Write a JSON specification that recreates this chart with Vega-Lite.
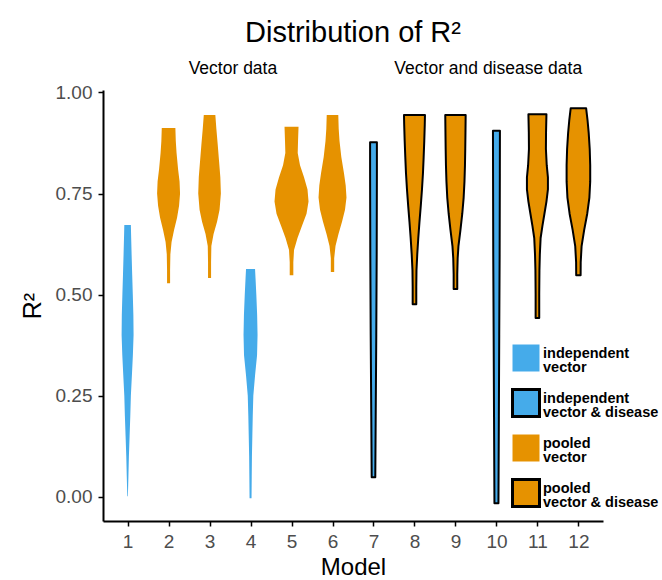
{
  "$schema": "https://vega.github.io/schema/vega-lite/v6.json",
  "width": 500,
  "height": 431,
  "autosize": {"type": "none"},
  "padding": {"left": 103, "top": 90, "right": 59, "bottom": 59},
  "background": "white",
  "title": {"text": "Distribution of R²", "font": "Liberation Sans", "fontSize": 29, "fontWeight": "normal", "color": "black", "anchor": "middle", "frame": "group", "baseline": "alphabetic", "offset": -11},
  "config": {"view": {"stroke": null}, "axis": {"grid": false}, "style": {"guide-label": {"lineHeight": 14}}},
  "layer": [
    {
      "data": {"values": [
        {"m":1,"g":"independent|vector","r2":0.001,"d":0.007},{"m":1,"g":"independent|vector","r2":0.05,"d":0.020},{"m":1,"g":"independent|vector","r2":0.10,"d":0.032},{"m":1,"g":"independent|vector","r2":0.15,"d":0.049},{"m":1,"g":"independent|vector","r2":0.20,"d":0.066},{"m":1,"g":"independent|vector","r2":0.25,"d":0.080},{"m":1,"g":"independent|vector","r2":0.30,"d":0.105},{"m":1,"g":"independent|vector","r2":0.35,"d":0.129},{"m":1,"g":"independent|vector","r2":0.40,"d":0.146},{"m":1,"g":"independent|vector","r2":0.45,"d":0.141},{"m":1,"g":"independent|vector","r2":0.50,"d":0.127},{"m":1,"g":"independent|vector","r2":0.55,"d":0.112},{"m":1,"g":"independent|vector","r2":0.60,"d":0.098},{"m":1,"g":"independent|vector","r2":0.65,"d":0.085},{"m":1,"g":"independent|vector","r2":0.672,"d":0.080},
        {"m":2,"g":"pooled|vector","r2":0.528,"d":0.037},{"m":2,"g":"pooled|vector","r2":0.56,"d":0.037},{"m":2,"g":"pooled|vector","r2":0.60,"d":0.044},{"m":2,"g":"pooled|vector","r2":0.63,"d":0.073},{"m":2,"g":"pooled|vector","r2":0.66,"d":0.134},{"m":2,"g":"pooled|vector","r2":0.69,"d":0.207},{"m":2,"g":"pooled|vector","r2":0.72,"d":0.256},{"m":2,"g":"pooled|vector","r2":0.75,"d":0.280},{"m":2,"g":"pooled|vector","r2":0.78,"d":0.268},{"m":2,"g":"pooled|vector","r2":0.81,"d":0.232},{"m":2,"g":"pooled|vector","r2":0.85,"d":0.195},{"m":2,"g":"pooled|vector","r2":0.88,"d":0.176},{"m":2,"g":"pooled|vector","r2":0.912,"d":0.166},
        {"m":3,"g":"pooled|vector","r2":0.541,"d":0.037},{"m":3,"g":"pooled|vector","r2":0.58,"d":0.037},{"m":3,"g":"pooled|vector","r2":0.62,"d":0.044},{"m":3,"g":"pooled|vector","r2":0.65,"d":0.098},{"m":3,"g":"pooled|vector","r2":0.68,"d":0.183},{"m":3,"g":"pooled|vector","r2":0.71,"d":0.244},{"m":3,"g":"pooled|vector","r2":0.75,"d":0.276},{"m":3,"g":"pooled|vector","r2":0.79,"d":0.263},{"m":3,"g":"pooled|vector","r2":0.83,"d":0.232},{"m":3,"g":"pooled|vector","r2":0.87,"d":0.200},{"m":3,"g":"pooled|vector","r2":0.91,"d":0.166},{"m":3,"g":"pooled|vector","r2":0.944,"d":0.141},
        {"m":4,"g":"independent|vector","r2":-0.004,"d":0.024},{"m":4,"g":"independent|vector","r2":0.05,"d":0.029},{"m":4,"g":"independent|vector","r2":0.10,"d":0.034},{"m":4,"g":"independent|vector","r2":0.15,"d":0.044},{"m":4,"g":"independent|vector","r2":0.20,"d":0.054},{"m":4,"g":"independent|vector","r2":0.25,"d":0.068},{"m":4,"g":"independent|vector","r2":0.30,"d":0.110},{"m":4,"g":"independent|vector","r2":0.35,"d":0.159},{"m":4,"g":"independent|vector","r2":0.40,"d":0.171},{"m":4,"g":"independent|vector","r2":0.45,"d":0.161},{"m":4,"g":"independent|vector","r2":0.50,"d":0.141},{"m":4,"g":"independent|vector","r2":0.54,"d":0.122},{"m":4,"g":"independent|vector","r2":0.563,"d":0.110},
        {"m":5,"g":"pooled|vector","r2":0.548,"d":0.044},{"m":5,"g":"pooled|vector","r2":0.58,"d":0.044},{"m":5,"g":"pooled|vector","r2":0.61,"d":0.061},{"m":5,"g":"pooled|vector","r2":0.64,"d":0.146},{"m":5,"g":"pooled|vector","r2":0.67,"d":0.256},{"m":5,"g":"pooled|vector","r2":0.70,"d":0.366},{"m":5,"g":"pooled|vector","r2":0.73,"d":0.415},{"m":5,"g":"pooled|vector","r2":0.76,"d":0.390},{"m":5,"g":"pooled|vector","r2":0.79,"d":0.305},{"m":5,"g":"pooled|vector","r2":0.82,"d":0.207},{"m":5,"g":"pooled|vector","r2":0.85,"d":0.151},{"m":5,"g":"pooled|vector","r2":0.88,"d":0.159},{"m":5,"g":"pooled|vector","r2":0.915,"d":0.171},
        {"m":6,"g":"pooled|vector","r2":0.556,"d":0.041},{"m":6,"g":"pooled|vector","r2":0.59,"d":0.041},{"m":6,"g":"pooled|vector","r2":0.62,"d":0.073},{"m":6,"g":"pooled|vector","r2":0.65,"d":0.146},{"m":6,"g":"pooled|vector","r2":0.68,"d":0.232},{"m":6,"g":"pooled|vector","r2":0.71,"d":0.305},{"m":6,"g":"pooled|vector","r2":0.74,"d":0.341},{"m":6,"g":"pooled|vector","r2":0.77,"d":0.322},{"m":6,"g":"pooled|vector","r2":0.80,"d":0.280},{"m":6,"g":"pooled|vector","r2":0.84,"d":0.215},{"m":6,"g":"pooled|vector","r2":0.88,"d":0.171},{"m":6,"g":"pooled|vector","r2":0.91,"d":0.151},{"m":6,"g":"pooled|vector","r2":0.944,"d":0.141},
        {"m":7,"g":"independent|vector & disease","r2":0.048,"d":0.044},{"m":7,"g":"independent|vector & disease","r2":0.2,"d":0.054},{"m":7,"g":"independent|vector & disease","r2":0.4,"d":0.068},{"m":7,"g":"independent|vector & disease","r2":0.6,"d":0.078},{"m":7,"g":"independent|vector & disease","r2":0.8,"d":0.083},{"m":7,"g":"independent|vector & disease","r2":0.877,"d":0.083},
        {"m":8,"g":"pooled|vector & disease","r2":0.476,"d":0.044},{"m":8,"g":"pooled|vector & disease","r2":0.52,"d":0.044},{"m":8,"g":"pooled|vector & disease","r2":0.56,"d":0.049},{"m":8,"g":"pooled|vector & disease","r2":0.60,"d":0.068},{"m":8,"g":"pooled|vector & disease","r2":0.64,"d":0.093},{"m":8,"g":"pooled|vector & disease","r2":0.68,"d":0.122},{"m":8,"g":"pooled|vector & disease","r2":0.72,"d":0.154},{"m":8,"g":"pooled|vector & disease","r2":0.76,"d":0.183},{"m":8,"g":"pooled|vector & disease","r2":0.80,"d":0.207},{"m":8,"g":"pooled|vector & disease","r2":0.84,"d":0.224},{"m":8,"g":"pooled|vector & disease","r2":0.88,"d":0.239},{"m":8,"g":"pooled|vector & disease","r2":0.92,"d":0.251},{"m":8,"g":"pooled|vector & disease","r2":0.944,"d":0.256},
        {"m":9,"g":"pooled|vector & disease","r2":0.514,"d":0.044},{"m":9,"g":"pooled|vector & disease","r2":0.55,"d":0.044},{"m":9,"g":"pooled|vector & disease","r2":0.59,"d":0.054},{"m":9,"g":"pooled|vector & disease","r2":0.62,"d":0.073},{"m":9,"g":"pooled|vector & disease","r2":0.66,"d":0.122},{"m":9,"g":"pooled|vector & disease","r2":0.70,"d":0.166},{"m":9,"g":"pooled|vector & disease","r2":0.74,"d":0.200},{"m":9,"g":"pooled|vector & disease","r2":0.78,"d":0.220},{"m":9,"g":"pooled|vector & disease","r2":0.82,"d":0.232},{"m":9,"g":"pooled|vector & disease","r2":0.86,"d":0.239},{"m":9,"g":"pooled|vector & disease","r2":0.90,"d":0.244},{"m":9,"g":"pooled|vector & disease","r2":0.944,"d":0.249},
        {"m":10,"g":"independent|vector & disease","r2":-0.016,"d":0.049},{"m":10,"g":"independent|vector & disease","r2":0.2,"d":0.059},{"m":10,"g":"independent|vector & disease","r2":0.4,"d":0.068},{"m":10,"g":"independent|vector & disease","r2":0.6,"d":0.078},{"m":10,"g":"independent|vector & disease","r2":0.8,"d":0.083},{"m":10,"g":"independent|vector & disease","r2":0.905,"d":0.085},
        {"m":11,"g":"pooled|vector & disease","r2":0.442,"d":0.044},{"m":11,"g":"pooled|vector & disease","r2":0.50,"d":0.044},{"m":11,"g":"pooled|vector & disease","r2":0.56,"d":0.049},{"m":11,"g":"pooled|vector & disease","r2":0.60,"d":0.059},{"m":11,"g":"pooled|vector & disease","r2":0.64,"d":0.078},{"m":11,"g":"pooled|vector & disease","r2":0.67,"d":0.122},{"m":11,"g":"pooled|vector & disease","r2":0.70,"d":0.171},{"m":11,"g":"pooled|vector & disease","r2":0.73,"d":0.220},{"m":11,"g":"pooled|vector & disease","r2":0.76,"d":0.256},{"m":11,"g":"pooled|vector & disease","r2":0.79,"d":0.256},{"m":11,"g":"pooled|vector & disease","r2":0.82,"d":0.227},{"m":11,"g":"pooled|vector & disease","r2":0.86,"d":0.207},{"m":11,"g":"pooled|vector & disease","r2":0.90,"d":0.210},{"m":11,"g":"pooled|vector & disease","r2":0.946,"d":0.220},
        {"m":12,"g":"pooled|vector & disease","r2":0.548,"d":0.054},{"m":12,"g":"pooled|vector & disease","r2":0.58,"d":0.056},{"m":12,"g":"pooled|vector & disease","r2":0.62,"d":0.078},{"m":12,"g":"pooled|vector & disease","r2":0.66,"d":0.141},{"m":12,"g":"pooled|vector & disease","r2":0.70,"d":0.215},{"m":12,"g":"pooled|vector & disease","r2":0.74,"d":0.268},{"m":12,"g":"pooled|vector & disease","r2":0.78,"d":0.288},{"m":12,"g":"pooled|vector & disease","r2":0.82,"d":0.288},{"m":12,"g":"pooled|vector & disease","r2":0.86,"d":0.276},{"m":12,"g":"pooled|vector & disease","r2":0.90,"d":0.251},{"m":12,"g":"pooled|vector & disease","r2":0.93,"d":0.224},{"m":12,"g":"pooled|vector & disease","r2":0.961,"d":0.188}
      ]},
      "transform": [
        {"calculate": "datum.m - datum.d", "as": "lo"},
        {"calculate": "datum.m + datum.d", "as": "hi"}
      ],
      "mark": {"type": "area", "orient": "horizontal", "strokeWidth": 2, "strokeJoin": "round", "opacity": 1, "fillOpacity": 1},
      "encoding": {
        "y": {"field": "r2", "type": "quantitative", "scale": {"domain": [-0.06, 1.006], "nice": false, "zero": false},
          "axis": {"title": "R²", "values": [0, 0.25, 0.5, 0.75, 1], "format": ".2f", "labelFont": "Liberation Sans", "labelFontSize": 19, "labelColor": "#4d4d4d", "labelPadding": 6, "tickColor": "black", "tickWidth": 1.5, "tickSize": 5, "domainColor": "black", "domainWidth": 2, "titleFont": "Liberation Sans", "titleFontSize": 25, "titleFontWeight": "normal", "titleColor": "black", "titlePadding": 10}},
        "x": {"field": "lo", "type": "quantitative", "scale": {"domain": [0.4, 12.6], "nice": false, "zero": false},
          "axis": {"title": "Model", "values": [1,2,3,4,5,6,7,8,9,10,11,12], "format": "d", "labelFont": "Liberation Sans", "labelFontSize": 19, "labelColor": "#4d4d4d", "labelPadding": 6, "tickColor": "black", "tickWidth": 1.5, "tickSize": 5, "domainColor": "black", "domainWidth": 2, "titleFont": "Liberation Sans", "titleFontSize": 24, "titleFontWeight": "normal", "titleColor": "black", "titlePadding": 4}},
        "x2": {"field": "hi"},
        "detail": {"field": "m"},
        "fill": {"field": "g", "type": "nominal",
          "scale": {"domain": ["independent|vector", "independent|vector & disease", "pooled|vector", "pooled|vector & disease"], "range": ["#45ABEA", "#45ABEA", "#E69200", "#E69200"]},
          "legend": {"title": null, "orient": "none", "legendX": 408, "legendY": 253, "padding": 0, "symbolType": "square", "symbolSize": 729, "symbolStrokeWidth": 3, "labelFont": "Liberation Sans", "labelFontWeight": "bold", "labelFontSize": 14.5, "labelColor": "black", "labelOffset": 2, "labelBaseline": "alphabetic", "rowPadding": 5, "labelLimit": 300, "labelExpr": "split(datum.label, '|')"}},
        "stroke": {"field": "g", "type": "nominal",
          "scale": {"domain": ["independent|vector", "independent|vector & disease", "pooled|vector", "pooled|vector & disease"], "range": ["transparent", "black", "transparent", "black"]},
          "legend": {"title": null, "orient": "none", "legendX": 408, "legendY": 253, "padding": 0, "symbolType": "square", "symbolSize": 729, "symbolStrokeWidth": 3, "labelFont": "Liberation Sans", "labelFontWeight": "bold", "labelFontSize": 14.5, "labelColor": "black", "labelOffset": 2, "labelBaseline": "alphabetic", "rowPadding": 5, "labelLimit": 300, "labelExpr": "split(datum.label, '|')"}}
      }
    },
    {
      "data": {"values": [
        {"x": 3.57, "y": 1.046, "label": "Vector data"},
        {"x": 9.8, "y": 1.046, "label": "Vector and disease data"}
      ]},
      "mark": {"type": "text", "font": "Liberation Sans", "fontSize": 17.5, "color": "black", "baseline": "alphabetic", "align": "center"},
      "encoding": {
        "x": {"field": "x", "type": "quantitative"},
        "y": {"field": "y", "type": "quantitative"},
        "text": {"field": "label"}
      }
    }
  ]
}
